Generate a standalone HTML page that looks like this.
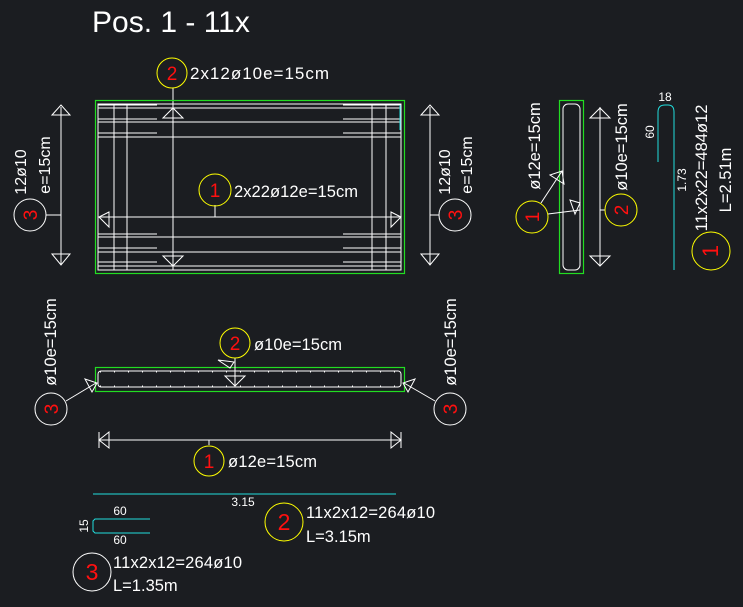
<!DOCTYPE html>
<html><head><meta charset="utf-8"><style>
html,body{margin:0;padding:0;background:#1b1d21;}
svg{display:block;font-family:"Liberation Sans",sans-serif;}
</style></head><body>
<svg width="743" height="607" viewBox="0 0 743 607">
<rect width="743" height="607" fill="#1b1d21"/>
<text x="92" y="32" font-size="30" fill="#fff">Pos. 1 - 11x</text>

<!-- TOP PLAN -->
<g stroke="#fff" stroke-width="1" fill="none">
<rect x="98" y="104" width="303" height="166"/>
<line x1="98" y1="108" x2="401" y2="108"/>
<line x1="98" y1="122" x2="401" y2="122"/>
<line x1="98" y1="137" x2="401" y2="137"/>
<line x1="98" y1="217" x2="401" y2="217"/>
<line x1="98" y1="237" x2="401" y2="237"/>
<line x1="98" y1="252" x2="401" y2="252"/>
<line x1="98" y1="266" x2="401" y2="266"/>
<g>
<line x1="98" y1="105" x2="157" y2="105"/><line x1="343" y1="105" x2="401" y2="105"/>
<line x1="98" y1="119" x2="157" y2="119"/><line x1="343" y1="119" x2="401" y2="119"/>
<line x1="98" y1="133" x2="157" y2="133"/><line x1="343" y1="133" x2="401" y2="133"/>
<line x1="98" y1="234" x2="157" y2="234"/><line x1="343" y1="234" x2="401" y2="234"/>
<line x1="98" y1="248" x2="157" y2="248"/><line x1="343" y1="248" x2="401" y2="248"/>
<line x1="98" y1="262" x2="157" y2="262"/><line x1="343" y1="262" x2="401" y2="262"/>
</g>
<line x1="114" y1="104" x2="114" y2="270"/>
<line x1="127" y1="104" x2="127" y2="270"/>
<line x1="372" y1="104" x2="372" y2="270"/>
<line x1="386" y1="104" x2="386" y2="270"/>
<line x1="173" y1="88" x2="173" y2="270"/>
<path d="M163,118 L173,108 L183,118 Z"/>
<path d="M163,256 L173,266 L183,256 Z"/>
<path d="M109,212 L99,217 L109,227 Z"/>
<path d="M391,212 L401,217 L391,227 Z"/>
<line x1="215" y1="205" x2="215" y2="217"/>
<line x1="61" y1="107" x2="61" y2="265"/>
<path d="M52,115 L61,105 L70,115 Z"/><line x1="52" y1="115" x2="70" y2="115"/>
<path d="M52,254 L61,265 L70,254 Z"/><line x1="52" y1="254" x2="70" y2="254"/>
<line x1="46" y1="215" x2="61" y2="215"/>
<line x1="430" y1="107" x2="430" y2="265"/>
<path d="M421,115 L430,105 L439,115 Z"/>
<path d="M421,254 L430,265 L439,254 Z"/>
<line x1="430" y1="215" x2="439" y2="215"/>
</g>
<rect x="95.5" y="100.5" width="309" height="173" fill="none" stroke="#22dd22" stroke-width="1.2"/>
<line x1="400" y1="105" x2="400" y2="130" stroke="#22dddd"/>
<circle cx="172" cy="73" r="15" fill="none" stroke="#ffff00"/>
<text x="172" y="80" font-size="19" fill="#ff1010" text-anchor="middle">2</text>
<text x="190" y="79" font-size="17" fill="#fff" textLength="139">2x12ø10e=15cm</text>
<circle cx="215" cy="190" r="16" fill="none" stroke="#ffff00"/>
<text x="215" y="197" font-size="19" fill="#ff1010" text-anchor="middle">1</text>
<text x="234" y="197" font-size="16.5" fill="#fff" textLength="124">2x22ø12e=15cm</text>
<circle cx="30" cy="215" r="16" fill="none" stroke="#fff"/>
<text transform="translate(37,215) rotate(-90)" font-size="19" fill="#ff1010" text-anchor="middle">3</text>
<text transform="translate(26,172) rotate(-90)" font-size="16" fill="#fff" text-anchor="middle">12ø10</text>
<text transform="translate(50,165) rotate(-90)" font-size="16" fill="#fff" text-anchor="middle">e=15cm</text>
<circle cx="455" cy="215" r="16" fill="none" stroke="#fff"/>
<text transform="translate(462,215) rotate(-90)" font-size="19" fill="#ff1010" text-anchor="middle">3</text>
<text transform="translate(450,172) rotate(-90)" font-size="16" fill="#fff" text-anchor="middle">12ø10</text>
<text transform="translate(472,165) rotate(-90)" font-size="16" fill="#fff" text-anchor="middle">e=15cm</text>

<!-- RIGHT SECTION -->
<rect x="559.5" y="100.5" width="24" height="173" fill="none" stroke="#22dd22" stroke-width="1.2"/>
<rect x="563" y="104" width="17" height="166" rx="5" fill="none" stroke="#fff"/>
<g stroke="#fff" fill="none">
<line x1="600" y1="107" x2="600" y2="266"/>
<path d="M590,118 L600,108 L610,118 Z"/><line x1="590" y1="118" x2="610" y2="118"/>
<path d="M590,256 L600,266 L610,256 Z"/><line x1="590" y1="256" x2="610" y2="256"/>
<line x1="600" y1="210" x2="605" y2="210"/>
<line x1="541" y1="203" x2="562" y2="171"/>
<line x1="548" y1="214" x2="580" y2="210"/>
<path d="M550,175 L562,171 L564,184 Z"/>
<path d="M570,200 L580,203 L575,214 Z"/>
</g>
<circle cx="532" cy="217" r="16" fill="none" stroke="#ffff00"/>
<text transform="translate(539,217) rotate(-90)" font-size="19" fill="#ff1010" text-anchor="middle">1</text>
<text transform="translate(540,146) rotate(-90)" font-size="16.5" fill="#fff" text-anchor="middle">ø12e=15cm</text>
<circle cx="621" cy="210" r="16" fill="none" stroke="#ffff00"/>
<text transform="translate(628,210) rotate(-90)" font-size="19" fill="#ff1010" text-anchor="middle">2</text>
<text transform="translate(627,147) rotate(-90)" font-size="16.5" fill="#fff" text-anchor="middle">ø10e=15cm</text>
<path d="M658,162 L658,112 Q658,105 665,105 L668,105 Q674,105 674,112 L674,270" fill="none" stroke="#22dddd"/>
<text x="665" y="101" font-size="12" fill="#fff" text-anchor="middle">18</text>
<text transform="translate(654,132) rotate(-90)" font-size="12" fill="#fff" text-anchor="middle">60</text>
<text transform="translate(686,180) rotate(-90)" font-size="12" fill="#fff" text-anchor="middle">1.73</text>
<text transform="translate(707,168) rotate(-90)" font-size="16.5" fill="#fff" text-anchor="middle">11x2x22=484ø12</text>
<text transform="translate(731,180) rotate(-90)" font-size="16.5" fill="#fff" text-anchor="middle">L=2.51m</text>
<circle cx="711" cy="251" r="19" fill="none" stroke="#ffff00"/>
<text transform="translate(718,251) rotate(-90)" font-size="22" fill="#ff1010" text-anchor="middle">1</text>

<!-- MIDDLE SECTION -->
<rect x="95.5" y="367.5" width="309" height="24" fill="none" stroke="#22dd22" stroke-width="1.2"/>
<rect x="98" y="371" width="303" height="16" rx="3" fill="none" stroke="#fff"/>
<line x1="100" y1="372" x2="399" y2="372" stroke="#fff" stroke-dasharray="1,13"/>
<line x1="100" y1="386" x2="399" y2="386" stroke="#fff" stroke-dasharray="1,13"/>
<g stroke="#fff" fill="none">
<line x1="235" y1="358" x2="235" y2="386"/>
<path d="M225,376 L235,386 L245,376 Z"/><line x1="225" y1="376" x2="245" y2="376"/>
<path d="M218,360 L230,368 L234,362 Z"/>
<line x1="66" y1="401" x2="96" y2="383"/>
<path d="M85,379 L97,383 L92,392 Z"/>
<line x1="435" y1="401" x2="404" y2="383"/>
<path d="M415,379 L403,383 L408,392 Z"/>
<line x1="99" y1="440" x2="401" y2="440"/>
<path d="M109,432 L99,440 L109,448 Z"/><line x1="99" y1="432" x2="99" y2="448"/>
<path d="M391,432 L401,440 L391,448 Z"/><line x1="401" y1="432" x2="401" y2="448"/>
<line x1="209" y1="440" x2="209" y2="445"/>
</g>
<circle cx="235" cy="343" r="15" fill="none" stroke="#ffff00"/>
<text x="235" y="350" font-size="19" fill="#ff1010" text-anchor="middle">2</text>
<text x="254" y="350" font-size="16.5" fill="#fff" textLength="88">ø10e=15cm</text>
<circle cx="51" cy="409" r="16" fill="none" stroke="#fff"/>
<text transform="translate(58,409) rotate(-90)" font-size="19" fill="#ff1010" text-anchor="middle">3</text>
<text transform="translate(56,342) rotate(-90)" font-size="16.5" fill="#fff" text-anchor="middle">ø10e=15cm</text>
<circle cx="450" cy="409" r="16" fill="none" stroke="#fff"/>
<text transform="translate(456,342) rotate(-90)" font-size="16.5" fill="#fff" text-anchor="middle">ø10e=15cm</text>
<text transform="translate(457,409) rotate(-90)" font-size="19" fill="#ff1010" text-anchor="middle">3</text>
<circle cx="209" cy="461" r="15" fill="none" stroke="#ffff00"/>
<text x="209" y="468" font-size="19" fill="#ff1010" text-anchor="middle">1</text>
<text x="228" y="467" font-size="16.5" fill="#fff" textLength="89">ø12e=15cm</text>

<!-- BOTTOM -->
<line x1="93" y1="494" x2="396" y2="494" stroke="#22dddd"/>
<text x="243" y="506" font-size="12" fill="#fff" text-anchor="middle">3.15</text>
<path d="M150,519 L95,519 L93,521 L93,531 L95,533 L150,533" fill="none" stroke="#22dddd"/>
<text x="120" y="515" font-size="12" fill="#fff" text-anchor="middle">60</text>
<text x="120" y="544" font-size="12" fill="#fff" text-anchor="middle">60</text>
<text transform="translate(88,526) rotate(-90)" font-size="12" fill="#fff" text-anchor="middle">15</text>
<circle cx="284" cy="522" r="19" fill="none" stroke="#ffff00"/>
<text x="284" y="530" font-size="23" fill="#ff1010" text-anchor="middle">2</text>
<text x="306" y="518" font-size="16.5" fill="#fff" textLength="129">11x2x12=264ø10</text>
<text x="306" y="542" font-size="16.5" fill="#fff">L=3.15m</text>
<circle cx="92" cy="572" r="19" fill="none" stroke="#fff"/>
<text x="92" y="580" font-size="23" fill="#ff1010" text-anchor="middle">3</text>
<text x="113" y="568" font-size="16.5" fill="#fff" textLength="129">11x2x12=264ø10</text>
<text x="113" y="591" font-size="16.5" fill="#fff">L=1.35m</text>
</svg>
</body></html>
